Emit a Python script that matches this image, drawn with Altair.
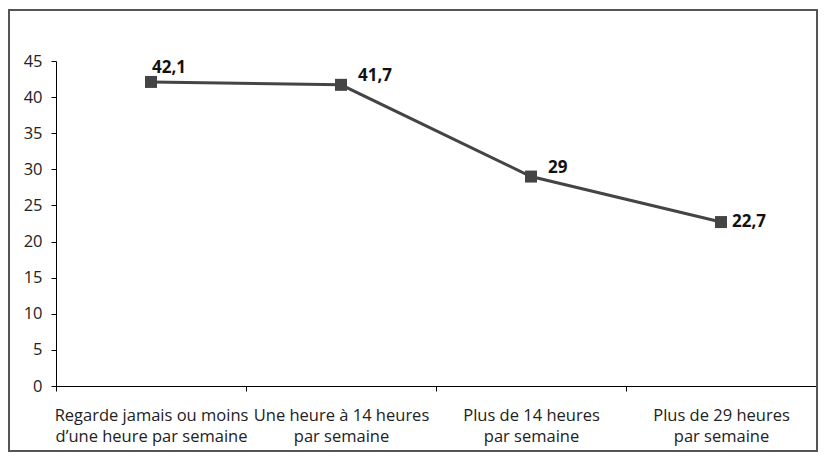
import altair as alt
import pandas as pd

categories = [
    "Regarde jamais ou moins\nd’une heure par semaine",
    "Une heure à 14 heures\npar semaine",
    "Plus de 14 heures\npar semaine",
    "Plus de 29 heures\npar semaine",
]
values = [42.1, 41.7, 29, 22.7]
value_labels = ["42,1", "41,7", "29", "22,7"]
y_ticks = [0, 5, 10, 15, 20, 25, 30, 35, 40, 45]

df = pd.DataFrame({"cat": categories, "val": values, "lab": value_labels})

FONT = "Open Sans"
LINE_COLOR = "#444444"

x_enc = alt.X(
    "cat:N",
    sort=categories,
    title=None,
    scale=alt.Scale(paddingInner=0, paddingOuter=0),
    axis=alt.Axis(
        labelAngle=0,
        tickBand="extent",
        labelExpr="datum.value ? split(datum.value, '\\n') : ''",
        labelFontSize=16.5,
        labelLineHeight=21,
        labelPadding=16,
        labelColor="#222222",
        labelFont=FONT,
        domainColor="#000000",
        tickColor="#000000",
        tickSize=5,
        labelLimit=300,
    ),
)
y_enc = alt.Y(
    "val:Q",
    title=None,
    scale=alt.Scale(domain=[0, 45], nice=False),
    axis=alt.Axis(
        values=y_ticks,
        grid=False,
        labelFontSize=16.5,
        labelPadding=9,
        labelColor="#222222",
        labelFont=FONT,
        domainColor="#000000",
        tickColor="#000000",
        tickSize=5,
    ),
)

base = alt.Chart(df)

line = base.mark_line(color=LINE_COLOR, strokeWidth=3).encode(x=x_enc, y=y_enc)
points = base.mark_point(
    shape="square", filled=True, size=144, color=LINE_COLOR, opacity=1
).encode(x=x_enc, y=y_enc)

txt_style = dict(font=FONT, fontSize=17, fontWeight="bold", color="#111111", align="left")
t1 = base.transform_filter(alt.datum.lab == value_labels[0]).mark_text(
    dx=1, dy=-14, **txt_style
).encode(x=x_enc, y=y_enc, text="lab:N")
t23 = base.transform_filter(
    (alt.datum.lab == value_labels[1]) | (alt.datum.lab == value_labels[2])
).mark_text(dx=17, dy=-9, **txt_style).encode(x=x_enc, y=y_enc, text="lab:N")
t4 = base.transform_filter(alt.datum.lab == value_labels[3]).mark_text(
    dx=11, dy=0, **txt_style
).encode(x=x_enc, y=y_enc, text="lab:N")

frame = alt.Chart(alt.Data(values=[{}])).mark_rect(
    filled=False, stroke="#555555", strokeWidth=2
).encode(x=alt.value(-47), x2=alt.value(761), y=alt.value(-51), y2=alt.value(390))

chart = (
    alt.layer(line, points, t1, t23, t4, frame)
    .properties(
        width=760,
        height=325,
        padding={"left": 48, "top": 53, "right": 2, "bottom": 66},
        autosize=alt.AutoSizeParams(type="none"),
    )
    .configure_view(stroke=None)
)

chart.save("out.html", embed_options={"renderer": "svg", "actions": False})
